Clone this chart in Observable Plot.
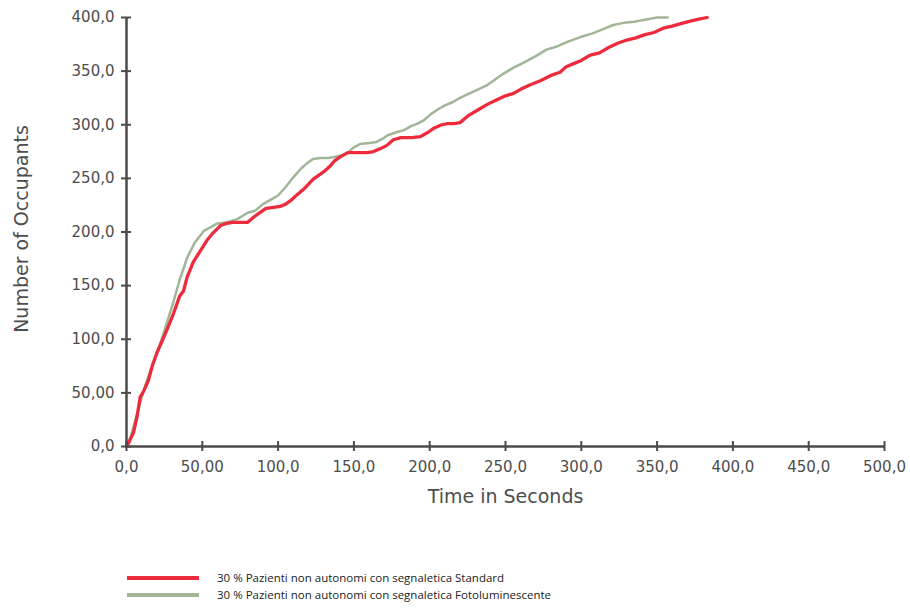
<!DOCTYPE html>
<html>
<head>
<meta charset="utf-8">
<script src="https://cdn.jsdelivr.net/npm/d3@7"></script>
<script src="https://cdn.jsdelivr.net/npm/@observablehq/plot@0.6"></script>
<style>
  body { margin: 0; background: #fff; }
  #legend { margin-top: 49px; font-family: "Open Sans", sans-serif; font-size: 11.5px; color: #222; }
  .row { display: flex; align-items: center; height: 17px; }
  .sw { width: 72px; height: 4px; margin-left: 127px; margin-right: 18px; }
</style>
</head>
<body>
<div id="chart"></div>
<div id="legend"></div>
<script>
const seriesNames = [
  "30 % Pazienti non autonomi con segnaletica Standard",
  "30 % Pazienti non autonomi con segnaletica Fotoluminescente"
];
const seriesColors = ["#ee2a3d", "#a1b697"];
const seriesWidths = [3.3, 2.5];

const redT = [0,2,4.6,7,9,11.5,14.5,17,20,24,27,31,35,37.6,40,44,49,53,57,62,66,70,75,80,84,88,92,97,101.6,105,108,112,117,123,130,134,137,141,146,150,154,159,163,168,172,176,181,188,194,199,203,208,212,216,220,226,232,238,244,250,255,260,266,273,280,286,290,295,300,306,312,318,324,330,336,342,348,354,360,365,370,376,383];
const redV = [0,5,13,28,46,52,62,75,87,100,110,124,140,145,158,172,183,192,199,206,208,209,209,209,214,218,222,223,224,226,229,234,240,249,256,261,266,270,274,274,274,274,275,278,281,286,288,288,289,293,297,300,301,301,302,309,314,319,323,327,329,333,337,341,346,349,354,357,360,365,367,372,376,379,381,384,386,390,392,394,396,398,400];

const greenT = [0,3,7,12,18,22,27,31,35,40,45,51,55,60,66,73,80,85,90,95,100,105,110,115,119,123,128,133,137,141,146,150,154,160,165,169,172,178,183,188,192,196,200,205,210,215,220,226,232,238,242,248,255,262,270,277,284,292,300,307,314,321,328,335,342,350,357];
const greenV = [0,10,31,55,80,95,117,135,155,176,190,201,204,208,209,212,218,220,226,230,234,242,251,259,264,268,269,269,270,271,274,279,282,283,284,287,290,293,295,299,301,304,309,314,318,321,325,329,333,337,341,347,353,358,364,370,373,378,382,385,389,393,395,396,398,400,400];

const xTicks = [0,50,100,150,200,250,300,350,400,450,500];
const xTickLabels = ["0,0","50,00","100,0","150,0","200,0","250,0","300,0","350,0","400,0","450,0","500,0"];
const yTicks = [0,50,100,150,200,250,300,350,400];
const yTickLabels = ["0,0","50,00","100,0","150,0","200,0","250,0","300,0","350,0","400,0"];
const xLabel = "Time in Seconds";
const yLabel = "Number of Occupants";

const red = redT.map((t, i) => ({t, v: redV[i], s: seriesNames[0]}));
const green = greenT.map((t, i) => ({t, v: greenV[i], s: seriesNames[1]}));

const axisColor = "#4a4a4a";
const textColor = "#4d4d4d";

const chart = Plot.plot({
  width: 910,
  height: 520,
  marginLeft: 126,
  marginRight: 26,
  marginTop: 17,
  marginBottom: 74,
  style: {fontFamily: "'DejaVu Sans', sans-serif", fontSize: "15px", background: "#fff"},
  x: {domain: [0, 500]},
  y: {domain: [0, 400]},
  marks: [
    Plot.line(green, {x: "t", y: "v", stroke: seriesColors[1], strokeWidth: seriesWidths[1], curve: "linear"}),
    Plot.line(red, {x: "t", y: "v", stroke: seriesColors[0], strokeWidth: seriesWidths[0], curve: "linear"}),
    Plot.ruleX([0], {stroke: axisColor, strokeWidth: 2.5}),
    Plot.ruleY([0], {stroke: axisColor, strokeWidth: 2.5}),
    Plot.axisX({ticks: xTicks, tickFormat: d => xTickLabels[xTicks.indexOf(d)], tickSize: 5, tickPadding: 10, stroke: axisColor, strokeWidth: 2, fill: textColor, fontSize: 15, label: null}),
    Plot.axisX({ticks: xTicks, tickSize: -5, text: null, stroke: axisColor, strokeWidth: 2, label: null}),
    Plot.axisY({ticks: yTicks, tickFormat: d => yTickLabels[yTicks.indexOf(d)], tickSize: 5, tickPadding: 7, stroke: axisColor, strokeWidth: 2, fill: textColor, fontSize: 15, label: null}),
    Plot.axisY({ticks: yTicks, tickSize: -5, text: null, stroke: axisColor, strokeWidth: 2, label: null}),
    Plot.text([xLabel], {frameAnchor: "bottom", dy: 50, lineAnchor: "middle", fill: textColor, fontSize: 19}),
    Plot.text([yLabel], {frameAnchor: "left", dx: -105, dy: -3, rotate: -90, textAnchor: "middle", lineAnchor: "middle", fill: textColor, fontSize: 19})
  ]
});
document.getElementById("chart").appendChild(chart);

const legend = document.getElementById("legend");
seriesNames.forEach((name, i) => {
  const row = document.createElement("div");
  row.className = "row";
  const sw = document.createElement("div");
  sw.className = "sw";
  sw.style.background = seriesColors[i];
  const tx = document.createElement("span");
  tx.textContent = name;
  row.appendChild(sw);
  row.appendChild(tx);
  legend.appendChild(row);
});
</script>
</body>
</html>
